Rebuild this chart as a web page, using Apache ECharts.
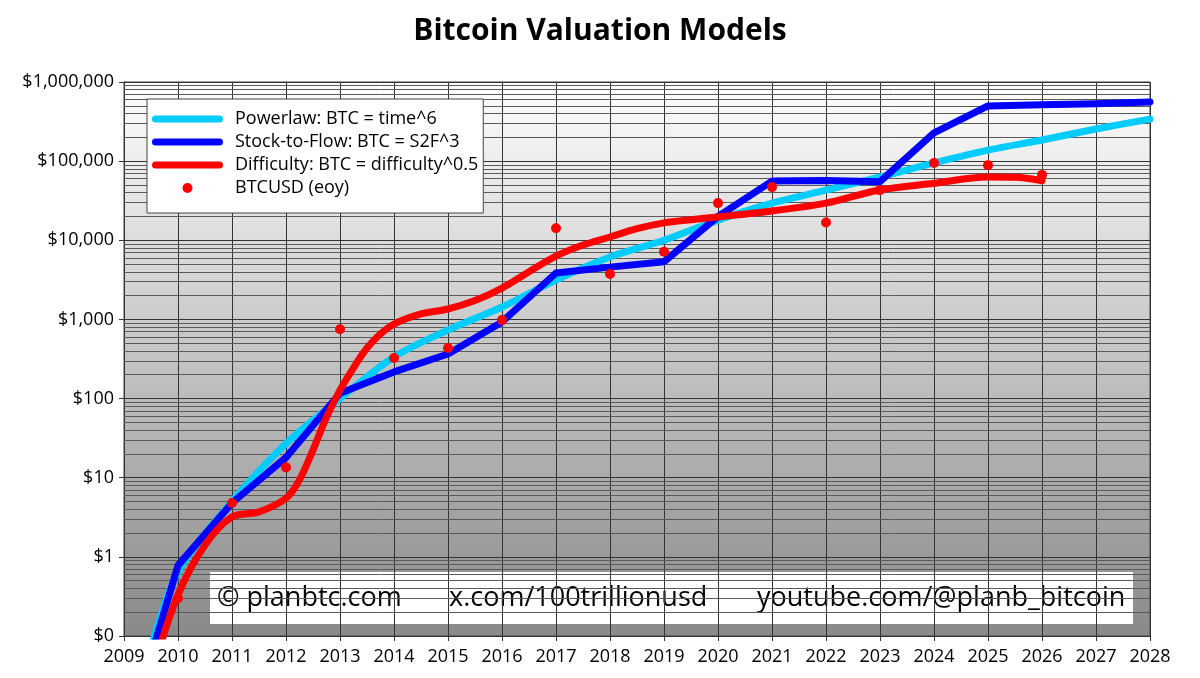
<!DOCTYPE html>
<html>
<head>
<meta charset="utf-8">
<script src="https://cdn.jsdelivr.net/npm/echarts@6/dist/echarts.min.js"></script>
<style>html,body{margin:0;padding:0;background:#fff}#c{width:1200px;height:678px}</style>
</head>
<body>
<div id="c"></div>
<script>
// ---- data ----
var powerlawYears = [2009.5, 2010, 2011, 2012, 2013, 2014, 2015, 2016, 2017, 2018, 2019, 2020, 2021, 2022, 2023, 2024, 2025, 2026, 2027, 2028];
var powerlawValues = [0.07, 0.65, 5, 27, 100, 335, 735, 1435, 3150, 6150, 10000, 18000, 29500, 43000, 63000, 95000, 138000, 185000, 255000, 340000];

var s2fYears = [2009.5, 2010, 2011, 2012, 2013, 2014, 2015, 2016, 2017, 2018, 2019, 2020, 2021, 2022, 2023, 2024, 2025, 2026, 2027, 2028];
var s2fValues = [0.056, 0.78, 4.8, 18, 117, 217, 366, 930, 3860, 4580, 5360, 20000, 56000, 57000, 55000, 227000, 498000, 517000, 530000, 559000];

var diffYears = [2009.55, 2010, 2010.5, 2011, 2011.5, 2012, 2012.25, 2012.5, 2012.75, 2013, 2013.25, 2013.5, 2013.75, 2014, 2014.5, 2015, 2015.5, 2016, 2016.5, 2017, 2017.5, 2018, 2018.5, 2019, 2019.5, 2020, 2021, 2022, 2023, 2024, 2025, 2025.5, 2026];
var diffValues = [0.04, 0.33, 1.41, 3.18, 3.7, 5.5, 9.4, 22.4, 58, 128, 245, 435, 655, 875, 1172, 1355, 1730, 2490, 4000, 6300, 8700, 11000, 14000, 16600, 18200, 19700, 23500, 29500, 43200, 52500, 63000, 62500, 56600];

var btcYears = [2010, 2011, 2012, 2013, 2014, 2015, 2016, 2017, 2018, 2019, 2020, 2021, 2022, 2023, 2024, 2025, 2026];
var btcValues = [0.3, 4.8, 13.5, 750, 325, 435, 980, 14200, 3750, 7150, 29500, 47000, 16800, 43000, 94500, 89000, 67000];

var seriesNames = ['Powerlaw: BTC = time^6', 'Stock-to-Flow: BTC = S2F^3', 'Difficulty: BTC = difficulty^0.5', 'BTCUSD (eoy)'];
var watermarkTexts = ['\u00a9 planbtc.com', 'x.com/100trillionusd', 'youtube.com/@planb_bitcoin'];

function zip(xs, ys) { return xs.map(function (x, i) { return [x, ys[i]]; }); }

// minor log gridlines (2..9 x 10^k)
var minorLines = [];
for (var k = -1; k <= 5; k++) {
  for (var m = 2; m <= 9; m++) minorLines.push({ yAxis: m * Math.pow(10, k) });
}

var FONT = 'Open Sans';
var lineIcon = 'path://M3.5,0 L67.5,0 A3.5,3.5 0 0 1 67.5,7 L3.5,7 A3.5,3.5 0 0 1 3.5,0 Z';

var chart = echarts.init(document.getElementById('c'));
chart.setOption({
  animation: false,
  textStyle: { fontFamily: FONT },
  title: {
    text: 'Bitcoin Valuation Models',
    left: 'center', top: 11,
    textStyle: { fontFamily: FONT, fontWeight: 'bold', fontSize: 30, color: '#000' }
  },
  grid: {
    left: 124, right: 50, top: 82, bottom: 42,
    show: true, borderColor: '#444', borderWidth: 1,
    backgroundColor: new echarts.graphic.LinearGradient(0, 0, 0, 1, [
      { offset: 0, color: '#fefefe' },
      { offset: 1, color: '#898989' }
    ])
  },
  legend: {
    data: [
      { name: seriesNames[0], icon: lineIcon },
      { name: seriesNames[1], icon: lineIcon },
      { name: seriesNames[2], icon: lineIcon },
      { name: seriesNames[3], icon: 'circle' }
    ],
    orient: 'vertical',
    left: 147, top: 99, z: 10,
    itemWidth: 71, itemHeight: 10, itemGap: 3,
    padding: [10, 5, 15, 5],
    backgroundColor: '#fff', borderColor: '#444', borderWidth: 1,
    selectedMode: false,
    textStyle: { fontFamily: FONT, fontSize: 18, color: '#000', lineHeight: 20, padding: [0, 0, 0, 7] }
  },
  xAxis: {
    type: 'value', min: 2009, max: 2028, interval: 1,
    axisLine: { show: true, lineStyle: { color: '#333' } },
    axisTick: { show: true, length: 5, lineStyle: { color: '#333' } },
    axisLabel: { fontFamily: FONT, fontSize: 18, color: '#000', margin: 12, formatter: function (v) { return String(Math.round(v)); } },
    splitLine: { show: true, lineStyle: { color: '#333', width: 1 } }
  },
  yAxis: {
    type: 'log', logBase: 10, min: 0.1, max: 1000000, interval: 1,
    axisLine: { show: true, lineStyle: { color: '#333' } },
    axisTick: { show: true, length: 5, lineStyle: { color: '#333' } },
    axisLabel: {
      fontFamily: FONT, fontSize: 18, color: '#000', margin: 10,
      formatter: function (v) { return v < 1 ? '$0' : '$' + Math.round(v).toLocaleString('en-US'); }
    },
    splitLine: { show: true, lineStyle: { color: '#333', width: 1.2 } },
    minorSplitLine: { show: false }
  },
  series: [
    {
      name: '_grid', type: 'line', data: [], z: 1, silent: true,
      markLine: {
        z: 1, silent: true, symbol: ['none', 'none'], label: { show: false },
        lineStyle: { color: '#5a5a5a', width: 1, type: 'solid' },
        data: minorLines
      }
    },
    {
      name: seriesNames[0], type: 'line', data: zip(powerlawYears, powerlawValues), z: 3,
      showSymbol: false, symbol: 'none', smooth: 0.3, clip: true,
      itemStyle: { color: '#00ccff' },
      lineStyle: { color: '#00ccff', width: 7, cap: 'round', join: 'round' }
    },
    {
      name: seriesNames[1], type: 'line', data: zip(s2fYears, s2fValues), z: 4,
      showSymbol: false, symbol: 'none', clip: true,
      itemStyle: { color: '#0000ff' },
      lineStyle: { color: '#0000ff', width: 7, cap: 'round', join: 'round' }
    },
    {
      name: seriesNames[2], type: 'line', data: zip(diffYears, diffValues), z: 5,
      showSymbol: false, symbol: 'none', smooth: 0.35, clip: true,
      itemStyle: { color: '#ff0000' },
      lineStyle: { color: '#ff0000', width: 7, cap: 'round', join: 'round' }
    },
    {
      name: seriesNames[3], type: 'scatter', data: zip(btcYears, btcValues), z: 6,
      symbolSize: 10, itemStyle: { color: '#ff0000', opacity: 1 }
    }
  ],
  graphic: [
    {
      type: 'group', left: 210, top: 572, z: 100,
      children: [
        { type: 'rect', shape: { x: 0, y: 0, width: 923, height: 52 }, style: { fill: '#fff' } },
        { type: 'text', x: 7, y: 26, style: { text: watermarkTexts[0], font: '27px "Open Sans"', fill: '#000', textVerticalAlign: 'middle' } },
        { type: 'text', x: 239, y: 26, style: { text: watermarkTexts[1], font: '27px "Open Sans"', fill: '#000', textVerticalAlign: 'middle' } },
        { type: 'text', x: 547, y: 26, style: { text: watermarkTexts[2], font: '27px "Open Sans"', fill: '#000', textVerticalAlign: 'middle' } }
      ]
    }
  ]
});
</script>
</body>
</html>
